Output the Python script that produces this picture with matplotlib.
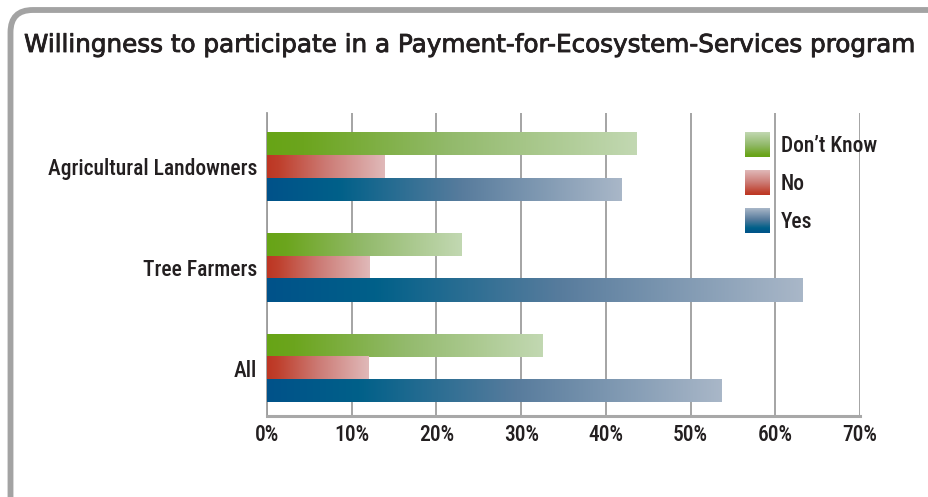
import numpy as np
import matplotlib
matplotlib.use("Agg")
import matplotlib.pyplot as plt
import matplotlib.patheffects as pe
from matplotlib.colors import LinearSegmentedColormap
from matplotlib.patches import FancyBboxPatch

# Survey results (% of respondents)
groups = ["Agricultural Landowners", "Tree Farmers", "All"]
answers = ["Don\u2019t Know", "No", "Yes"]
dont_know = [43.6, 23.0, 32.5]
no = [13.9, 12.1, 12.0]
yes = [41.8, 63.2, 53.6]
x_ticks = [0, 10, 20, 30, 40, 50, 60, 70]
x_tick_labels = [f"{t}%" for t in x_ticks]

title = "Willingness to participate in a Payment-for-Ecosystem-Services program"

# Gradient colour stops (position, colour), dark -> light, for each answer
gradients = {
    "Don\u2019t Know": [(0.0, "#67a416"), (0.1, "#6ca51e"), (0.5, "#93ba6c"), (1.0, "#c2d8b2")],
    "No": [(0.0, "#bd3623"), (0.1, "#bf3f2c"), (0.5, "#cc7a74"), (1.0, "#e0b9b9")],
    "Yes": [(0.0, "#00528a"), (0.2, "#006089"), (0.55, "#587c9d"), (1.0, "#a9b7c8")],
}
cmaps = {k: LinearSegmentedColormap.from_list(k, v) for k, v in gradients.items()}

NARROW = ["Roboto Condensed", "DejaVu Sans"]
TITLE_FONT = ["DejaVu Sans"]
TEXT = "#231f20"
LABEL_SIZE = 15.5

fig = plt.figure(figsize=(9.29, 4.97), dpi=100)
fig.patch.set_facecolor("white")

# Rounded frame running off the right and bottom edges
frame = FancyBboxPatch((10.5 / 929, -0.2), 1.2, 1 - 10 / 497 + 0.2,
                       boxstyle="round,pad=0,rounding_size=0.024",
                       transform=fig.transFigure, facecolor="none",
                       edgecolor="#a3a3a3", linewidth=4.2, zorder=0,
                       mutation_aspect=929 / 497)
fig.patches.append(frame)

# Title sized to span the header width
t = fig.text(24 / 929, 1 - 45 / 497, title, fontsize=16, family=TITLE_FONT,
             color=TEXT, va="center", ha="left",
             path_effects=[pe.withStroke(linewidth=0.6, foreground=TEXT)])
fig.canvas.draw()
w = t.get_window_extent().width
t.set_fontsize(16 * 894 / w)

ax = fig.add_axes([267 / 929, 1 - 416 / 497, 593 / 929, 303 / 497])

bar_h = 0.232
offsets = [-0.226, 0.0, 0.226]
series = [dont_know, no, yes]
grad = np.linspace(0, 1, 256).reshape(1, -1)

for ans, vals, off in zip(answers, series, offsets):
    for i, v in enumerate(vals):
        y = i + off
        rect = ax.barh(y, v, height=bar_h, color="none", edgecolor="none",
                       zorder=3)[0]
        im = ax.imshow(grad, cmap=cmaps[ans], aspect="auto",
                       extent=(0, v, y + bar_h / 2, y - bar_h / 2),
                       zorder=3, interpolation="bilinear")
        im.set_clip_path(rect)

ax.set_xlim(0, 70)
ax.set_ylim(2.476, -0.531)

ax.set_xticks(x_ticks)
ax.set_xticklabels(x_tick_labels, family=NARROW, fontsize=LABEL_SIZE,
                   fontweight=500, color=TEXT)
ax.set_yticks(range(len(groups)))
ax.set_yticklabels(groups, family=NARROW, fontsize=LABEL_SIZE, fontweight=500,
                   color=TEXT)
ax.tick_params(axis="both", length=0)
ax.tick_params(axis="x", pad=6)
ax.tick_params(axis="y", pad=7)

ax.grid(axis="x", color="#9d9d9d", linewidth=1.3, zorder=1)
ax.set_axisbelow(True)
for s in ["top", "right"]:
    ax.spines[s].set_visible(False)
ax.spines["left"].set_color("#9d9d9d")
ax.spines["left"].set_linewidth(1.3)
ax.spines["bottom"].set_color("#a8a8a8")
ax.spines["bottom"].set_linewidth(2.2)

# Legend with vertical gradient swatches
vgrad = np.linspace(1, 0, 256).reshape(-1, 1)
legend_tops = [132, 170, 208]
for ans, top in zip(answers, legend_tops):
    sax = fig.add_axes([745 / 929, 1 - (top + 25) / 497, 25 / 929, 25 / 497])
    sax.imshow(vgrad, cmap=cmaps[ans], aspect="auto", vmin=0, vmax=1,
               interpolation="bilinear")
    sax.axis("off")
    fig.text(781 / 929, 1 - (top + 14) / 497, ans, family=NARROW,
             fontsize=LABEL_SIZE, fontweight=500, color=TEXT,
             va="center", ha="left")

fig.savefig("out.png", dpi=100, facecolor="white")
